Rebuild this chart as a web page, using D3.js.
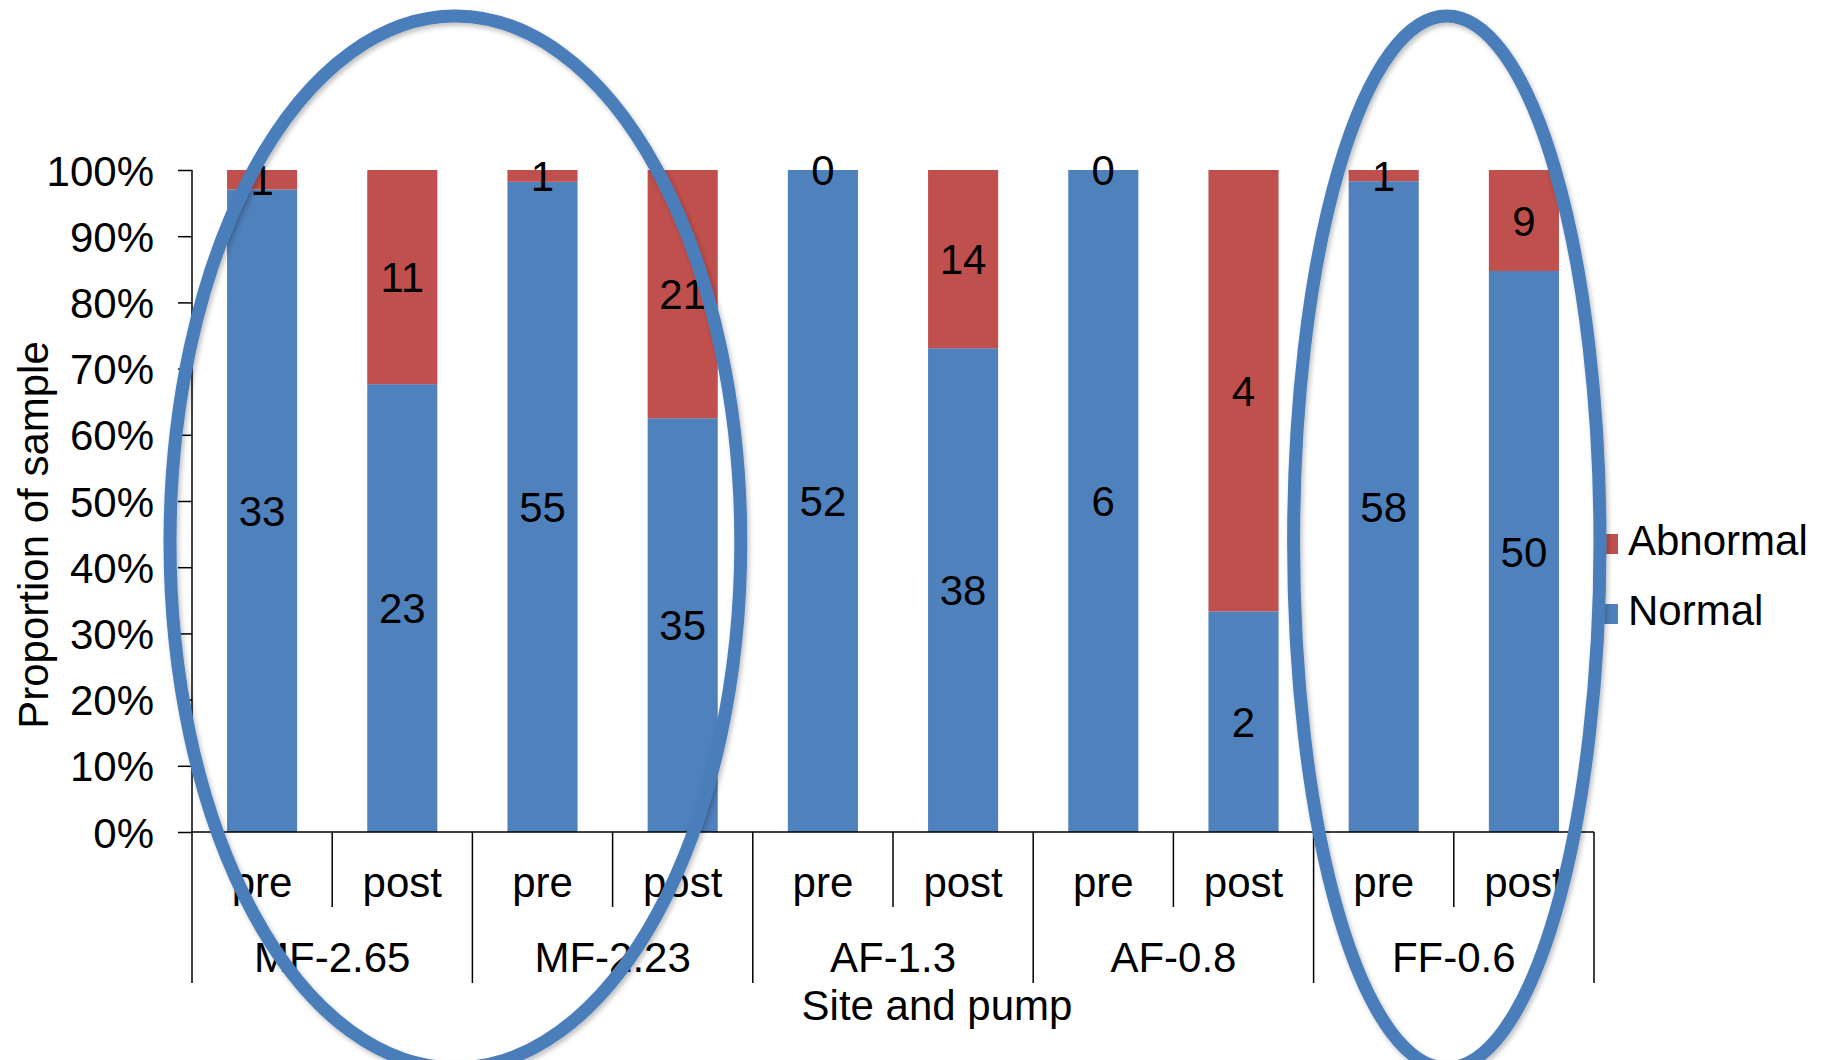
<!DOCTYPE html>
<html>
<head>
<meta charset="utf-8">
<script src="https://cdn.jsdelivr.net/npm/d3@7"></script>
<style>
  html, body { margin: 0; padding: 0; background: #fff; }
  svg { display: block; }
  text { font-family: "Liberation Sans", Arial, sans-serif; fill: #000; }
</style>
</head>
<body>
<svg id="chart" width="1824" height="1060"></svg>
<script>
// Sample counts per site/pump, before and after
const groups = ["MF-2.65", "MF-2.23", "AF-1.3", "AF-0.8", "FF-0.6"];
const phases = ["pre", "post"];
const normal = [33, 23, 55, 35, 52, 38, 6, 2, 58, 50];
const abnormal = [1, 11, 1, 21, 0, 14, 0, 4, 1, 9];
const seriesNames = ["Normal", "Abnormal"];
const seriesColors = ["#4f81bd", "#c0504d"];
const yTicks = [0, 0.1, 0.2, 0.3, 0.4, 0.5, 0.6, 0.7, 0.8, 0.9, 1.0];
// groups ringed by hand-drawn ovals
const highlighted = [["MF-2.65", "MF-2.23"], ["FF-0.6"]];

const W = 1824, H = 1060;
const margin = { left: 192, right: 230, top: 170, bottom: 228 };
const plotW = W - margin.left - margin.right;
const plotH = H - margin.top - margin.bottom;

const rows = [];
groups.forEach((g, gi) => phases.forEach((p, pi) => {
  const i = gi * phases.length + pi;
  const total = normal[i] + abnormal[i];
  rows.push({ key: g + "|" + p, group: g, phase: p, Normal: normal[i], Abnormal: abnormal[i],
              nShare: normal[i] / total, aShare: abnormal[i] / total });
}));

const svg = d3.select("#chart");
const g = svg.append("g").attr("transform", `translate(${margin.left},${margin.top})`);

const x = d3.scaleBand().domain(rows.map(r => r.key)).range([0, plotW]).paddingInner(0.5).paddingOuter(0.25);
const y = d3.scaleLinear().domain([0, 1]).range([plotH, 0]);

// stacked shares
const stack = d3.stack().keys(["nShare", "aShare"]);
const layers = stack(rows);

layers.forEach((layer, li) => {
  g.append("g").selectAll("rect").data(layer).enter().append("rect")
    .attr("x", d => x(d.data.key))
    .attr("width", x.bandwidth())
    .attr("y", d => y(d[1]))
    .attr("height", d => y(d[0]) - y(d[1]))
    .attr("fill", seriesColors[li]);
});

// value labels centred in each segment
layers.forEach((layer, li) => {
  const name = seriesNames[li];
  g.append("g").selectAll("text").data(layer).enter().append("text")
    .attr("x", d => x(d.data.key) + x.bandwidth() / 2)
    .attr("y", d => y((d[0] + d[1]) / 2))
    .attr("dy", "0.36em")
    .attr("text-anchor", "middle")
    .style("font-size", "42px")
    .text(d => d.data[name]);
});

// y axis
const yAxis = d3.axisLeft(y).tickValues(yTicks).tickFormat(d3.format(".0%")).tickSize(14).tickPadding(24);
const yg = g.append("g").call(yAxis);
yg.select(".domain").attr("stroke", "#000").attr("stroke-width", 1.5).attr("d", `M0,0V${plotH}`);
yg.selectAll(".tick line").attr("stroke", "#000").attr("stroke-width", 1.5);
yg.selectAll(".tick text").style("font-size", "42px").attr("dy", "0.36em");

// category axis: baseline plus two-level labels and separators
g.append("line").attr("x1", 0).attr("x2", plotW).attr("y1", plotH).attr("y2", plotH)
  .attr("stroke", "#000").attr("stroke-width", 1.5);

const sepShort = 75, sepLong = 151;
rows.forEach((r, i) => {
  const left = x(r.key) - x.bandwidth() / 2;
  const isGroupStart = i % phases.length === 0;
  g.append("line").attr("x1", left).attr("x2", left).attr("y1", plotH)
    .attr("y2", plotH + (isGroupStart ? sepLong : sepShort))
    .attr("stroke", "#000").attr("stroke-width", 1.5);
  g.append("text").attr("x", x(r.key) + x.bandwidth() / 2).attr("y", plotH + 65)
    .attr("text-anchor", "middle").style("font-size", "42px").text(r.phase);
});
g.append("line").attr("x1", plotW).attr("x2", plotW).attr("y1", plotH).attr("y2", plotH + sepLong)
  .attr("stroke", "#000").attr("stroke-width", 1.5);

groups.forEach(gr => {
  const keys = phases.map(p => gr + "|" + p);
  const cx = (x(keys[0]) + x(keys[keys.length - 1]) + x.bandwidth()) / 2;
  g.append("text").attr("x", cx).attr("y", plotH + 140)
    .attr("text-anchor", "middle").style("font-size", "42px").text(gr);
});

// axis titles
svg.append("text").attr("x", 937).attr("y", 1020).attr("text-anchor", "middle")
  .style("font-size", "42px").text("Site and pump");
svg.append("text").attr("transform", `translate(48,${margin.top + plotH / 2 + 34}) rotate(-90)`)
  .attr("text-anchor", "middle").style("font-size", "42px").text("Proportion of sample");

// legend
const legend = svg.append("g").attr("transform", "translate(1599,534)");
["Abnormal", "Normal"].forEach((name, i) => {
  const color = seriesColors[seriesNames.indexOf(name)];
  legend.append("rect").attr("x", 0).attr("y", i * 70).attr("width", 19).attr("height", 20).attr("fill", color);
  legend.append("text").attr("x", 29).attr("y", i * 70 + 21).style("font-size", "42px").text(name);
});

// hand-drawn ovals around highlighted groups
const defs = svg.append("defs");
const f = defs.append("filter").attr("id", "shade").attr("x", "-10%").attr("y", "-10%").attr("width", "120%").attr("height", "120%");
f.append("feDropShadow").attr("dx", 2).attr("dy", 3).attr("stdDeviation", 2.5)
  .attr("flood-color", "#000").attr("flood-opacity", 0.25);

const ovalPad = [{ dx: -17, pad: 5 }, { dx: -7, pad: 13 }];
highlighted.forEach((grp, k) => {
  const first = grp[0] + "|" + phases[0];
  const last = grp[grp.length - 1] + "|" + phases[phases.length - 1];
  const x0 = x(first) - x.bandwidth() / 2;
  const x1 = x(last) + x.bandwidth() * 1.5;
  svg.append("ellipse")
    .attr("cx", margin.left + (x0 + x1) / 2 + ovalPad[k].dx)
    .attr("cy", H / 2 + 12)
    .attr("rx", (x1 - x0) / 2 + ovalPad[k].pad)
    .attr("ry", H / 2 - 4)
    .attr("fill", "none")
    .attr("stroke", "#4a7ebb")
    .attr("stroke-width", 13)
    .attr("filter", "url(#shade)");
});
</script>
</body>
</html>
